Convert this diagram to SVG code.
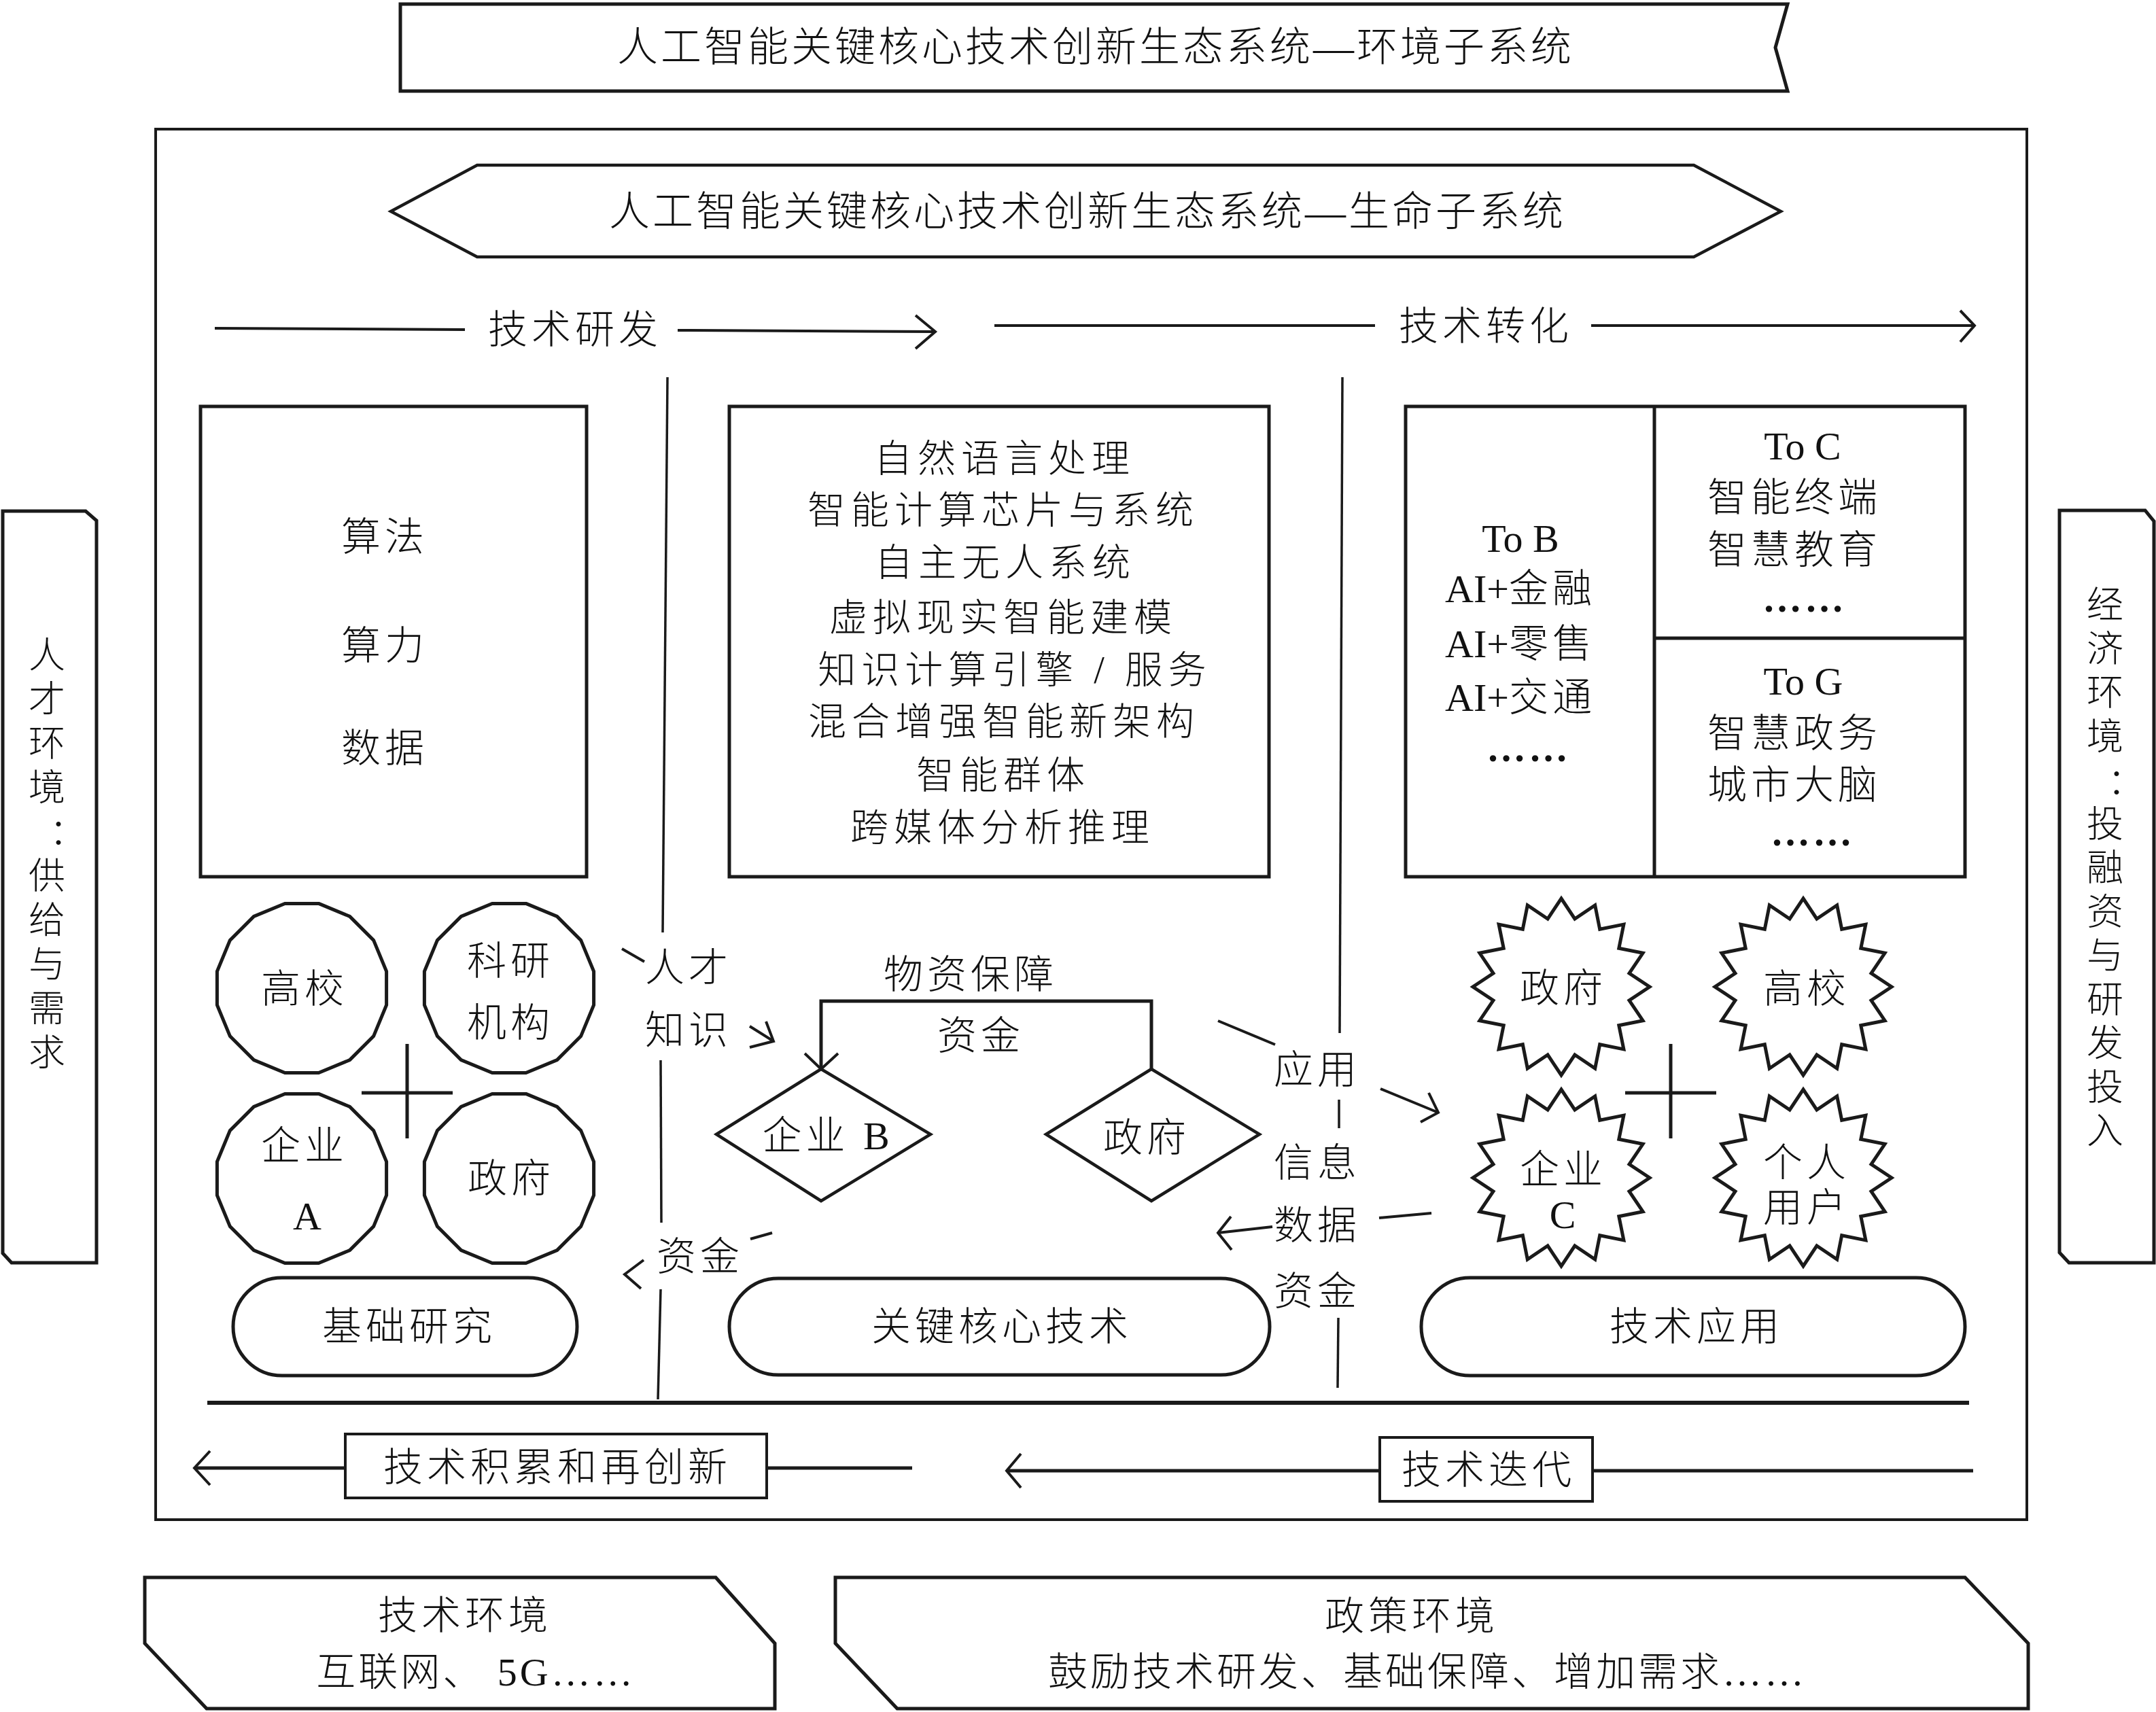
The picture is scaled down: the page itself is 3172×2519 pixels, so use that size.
<svg xmlns="http://www.w3.org/2000/svg" xmlns:xlink="http://www.w3.org/1999/xlink" width="3172" height="2519" viewBox="0 0 3172 2519">
<style>
  .bg { fill:#ffffff; }
  .s { fill:#ffffff; stroke:#1a1a1a; stroke-width:5; stroke-linejoin:miter; }
  .n { fill:none; stroke:#1a1a1a; stroke-width:4; stroke-linecap:butt; stroke-linejoin:miter; }
  .thin { fill:none; stroke:#1a1a1a; stroke-width:3.5; }
  .t { font-family:"Liberation Serif","Noto Sans CJK SC",serif; font-size:58px; fill:#111111; text-anchor:middle; dominant-baseline:central; font-weight:300; letter-spacing:6px; }
  .big { font-size:60px; letter-spacing:4px; }
  .mid { font-size:56px; letter-spacing:8px; }
  .vert { font-size:54px; letter-spacing:0px; }
  .lat { font-size:58px; letter-spacing:0px; font-weight:400; }
  .dots { font-weight:700; letter-spacing:4px; }
  .col { font-family:"Noto Sans CJK TC","Noto Sans CJK SC",sans-serif; }
</style>
<defs>
  <polygon id="c16" points="24.8,-124.6 70.6,-105.6 105.6,-70.6 124.6,-24.8 124.6,24.8 105.6,70.6 70.6,105.6 24.8,124.6 -24.8,124.6 -70.6,105.6 -105.6,70.6 -124.6,24.8 -124.6,-24.8 -105.6,-70.6 -70.6,-105.6 -24.8,-124.6"/>
  <polygon id="star16" points="0,-130 19.9,-100 49.7,-120.1 56.7,-84.8 91.9,-91.9 84.8,-56.7 120.1,-49.7 100,-19.9 130,0 100,19.9 120.1,49.7 84.8,56.7 91.9,91.9 56.7,84.8 49.7,120.1 19.9,100 0,130 -19.9,100 -49.7,120.1 -56.7,84.8 -91.9,91.9 -84.8,56.7 -120.1,49.7 -100,19.9 -130,0 -100,-19.9 -120.1,-49.7 -84.8,-56.7 -91.9,-91.9 -56.7,-84.8 -49.7,-120.1 -19.9,-100"/>
</defs>
<rect class="bg" x="0" y="0" width="3172" height="2519"/>

<g id="env-title">
  <path class="s" d="M589,6 L2630,6 L2612,70 L2630,134 L589,134 Z"/>
  <text class="t big" x="1612" y="70">人工智能关键核心技术创新生态系统—环境子系统</text>
</g>

<g id="main-frame">
  <rect class="n" x="229" y="190" width="2753" height="2046"/>
</g>

<g id="life-title">
  <polygon class="s" style="stroke-width:4.5" points="575,311 702,243 2492,243 2620,311 2492,378 702,378"/>
  <text class="t big" x="1600" y="312">人工智能关键核心技术创新生态系统—生命子系统</text>
</g>

<g id="left-env">
  <path class="s" d="M4,752 L126,752 L142,766 L142,1858 L17,1858 L4,1844 Z"/>
  <text class="t vert">
    <tspan x="69" y="965">人</tspan><tspan x="69" y="1030">才</tspan><tspan x="69" y="1095">环</tspan><tspan x="69" y="1160">境</tspan><tspan class="col" x="86" y="1223">：</tspan><tspan x="69" y="1290">供</tspan><tspan x="69" y="1355">给</tspan><tspan x="69" y="1420">与</tspan><tspan x="69" y="1485">需</tspan><tspan x="69" y="1550">求</tspan>
  </text>
</g>

<g id="right-env">
  <path class="s" d="M3030,751 L3156,751 L3169,767 L3169,1858 L3044,1858 L3030,1843 Z"/>
  <text class="t vert">
    <tspan x="3097" y="891">经</tspan><tspan x="3097" y="956">济</tspan><tspan x="3097" y="1020">环</tspan><tspan x="3097" y="1085">境</tspan><tspan class="col" x="3114" y="1149">：</tspan><tspan x="3097" y="1214">投</tspan><tspan x="3097" y="1278">融</tspan><tspan x="3097" y="1343">资</tspan><tspan x="3097" y="1407">与</tspan><tspan x="3097" y="1472">研</tspan><tspan x="3097" y="1536">发</tspan><tspan x="3097" y="1601">投</tspan><tspan x="3097" y="1665">入</tspan>
  </text>
</g>

<g id="stage-arrows">
  <line class="n" x1="316" y1="483" x2="684" y2="485"/>
  <text class="t" x="846" y="485">技术研发</text>
  <line class="n" x1="997" y1="486" x2="1374" y2="488"/>
  <polyline class="n" points="1347,464 1376,488 1347,513"/>
  <line class="n" x1="1463" y1="479" x2="2023" y2="479"/>
  <text class="t" x="2186" y="480">技术转化</text>
  <line class="n" x1="2341" y1="479" x2="2903" y2="479"/>
  <polyline class="n" points="2884,457 2905,479 2884,503"/>
</g>

<g id="box-basic">
  <rect class="s" x="295" y="598" width="568" height="692"/>
  <text class="t" x="566" y="790">算法</text>
  <text class="t" x="566" y="950">算力</text>
  <text class="t" x="566" y="1101">数据</text>
</g>

<g id="box-core">
  <rect class="s" x="1073" y="598" width="794" height="692"/>
  <text class="t mid" x="1478" y="675">自然语言处理</text>
  <text class="t mid" x="1476" y="751">智能计算芯片与系统</text>
  <text class="t mid" x="1479" y="828">自主无人系统</text>
  <text class="t mid" x="1476" y="909">虚拟现实智能建模</text>
  <text class="t mid" x="1493" y="986">知识计算引擎 / 服务</text>
  <text class="t mid" x="1477" y="1062">混合增强智能新架构</text>
  <text class="t mid" x="1476" y="1141">智能群体</text>
  <text class="t mid" x="1475" y="1218">跨媒体分析推理</text>
</g>

<g id="box-apply">
  <rect class="s" x="2068" y="598" width="823" height="692"/>
  <line class="n" style="stroke-width:5" x1="2434" y1="598" x2="2434" y2="1290"/>
  <line class="n" style="stroke-width:5" x1="2434" y1="939" x2="2891" y2="939"/>
  <text class="t" x="2237" y="792"><tspan class="lat">To B</tspan></text>
  <text class="t" x="2237" y="866"><tspan class="lat">AI+</tspan>金融</text>
  <text class="t" x="2237" y="947"><tspan class="lat">AI+</tspan>零售</text>
  <text class="t" x="2237" y="1026"><tspan class="lat">AI+</tspan>交通</text>
  <text class="t dots" x="2249" y="1100">……</text>
  <text class="t" x="2652" y="656"><tspan class="lat">To C</tspan></text>
  <text class="t" x="2640" y="732">智能终端</text>
  <text class="t" x="2640" y="809">智慧教育</text>
  <text class="t dots" x="2655" y="880">……</text>
  <text class="t" x="2653" y="1002"><tspan class="lat">To G</tspan></text>
  <text class="t" x="2640" y="1079">智慧政务</text>
  <text class="t" x="2640" y="1155">城市大脑</text>
  <text class="t dots" x="2667" y="1224">……</text>
</g>

<g id="dividers">
  <line class="thin" x1="982" y1="555" x2="975" y2="1372"/>
  <line class="thin" x1="972" y1="1560" x2="973" y2="1799"/>
  <line class="thin" x1="972" y1="1897" x2="968" y2="2059"/>
  <line class="thin" x1="1975" y1="555" x2="1971" y2="1520"/>
  <line class="thin" x1="1970" y1="1618" x2="1970" y2="1660"/>
  <line class="thin" x1="1969" y1="1939" x2="1968" y2="2042"/>
</g>

<g id="actor-gaoxiao-left">
  <use href="#c16" class="s" x="444" y="1454"/>
  <text class="t" x="448" y="1455">高校</text>
</g>
<g id="actor-keyan">
  <use href="#c16" class="s" x="749" y="1454"/>
  <text class="t" x="751" y="1414">科研</text>
  <text class="t" x="751" y="1505">机构</text>
</g>
<g id="actor-qiye-a">
  <use href="#c16" class="s" x="444" y="1734"/>
  <text class="t" x="448" y="1686">企业</text>
  <text class="t" style="letter-spacing:0px" x="452" y="1789"><tspan class="lat">A</tspan></text>
</g>
<g id="actor-zhengfu-left">
  <use href="#c16" class="s" x="749" y="1734"/>
  <text class="t" x="752" y="1734">政府</text>
</g>
<g id="plus-left">
  <line class="n" style="stroke-width:5" x1="599" y1="1536" x2="599" y2="1675"/>
  <line class="n" style="stroke-width:5" x1="532" y1="1608" x2="666" y2="1608"/>
</g>

<g id="actor-qiye-b">
  <polygon class="s" style="stroke-width:4.5" points="1054,1669 1208,1573 1369,1669 1208,1767"/>
  <text class="t" x="1215" y="1671">企业 <tspan class="lat">B</tspan></text>
</g>
<g id="actor-zhengfu-mid">
  <polygon class="s" style="stroke-width:4.5" points="1539,1669 1694,1573 1853,1669 1694,1767"/>
  <text class="t" x="1687" y="1674">政府</text>
</g>

<g id="actor-zhengfu-right">
  <use href="#star16" class="s" x="2297" y="1452"/>
  <text class="t" x="2300" y="1454">政府</text>
</g>
<g id="actor-gaoxiao-right">
  <use href="#star16" class="s" x="2653" y="1452"/>
  <text class="t" x="2658" y="1455">高校</text>
</g>
<g id="actor-qiye-c">
  <use href="#star16" class="s" x="2297" y="1733"/>
  <text class="t" x="2300" y="1721">企业</text>
  <text class="t" style="letter-spacing:0px" x="2299" y="1787"><tspan class="lat">C</tspan></text>
</g>
<g id="actor-geren">
  <use href="#star16" class="s" x="2653" y="1733"/>
  <text class="t" x="2658" y="1711">个人</text>
  <text class="t" x="2658" y="1777">用户</text>
</g>
<g id="plus-right">
  <line class="n" style="stroke-width:5" x1="2458" y1="1536" x2="2458" y2="1675"/>
  <line class="n" style="stroke-width:5" x1="2391" y1="1608" x2="2525" y2="1608"/>
</g>

<g id="stage-basic">
  <rect class="s" x="343" y="1880" width="506" height="144" rx="72" ry="72"/>
  <text class="t" x="602" y="1952">基础研究</text>
</g>
<g id="stage-core">
  <rect class="s" x="1073" y="1881" width="795" height="142" rx="72" ry="71"/>
  <text class="t" x="1474" y="1952">关键核心技术</text>
</g>
<g id="stage-apply">
  <rect class="s" x="2091" y="1880" width="800" height="144" rx="72" ry="72"/>
  <text class="t" x="2496" y="1952">技术应用</text>
</g>

<g id="connectors">
  <polyline class="n" style="stroke-width:5" points="1208,1573 1208,1473 1694,1473 1694,1573"/>
  <polyline class="n" points="1184,1550 1208,1573 1233,1550"/>
  <line class="n" x1="915" y1="1396" x2="948" y2="1415"/>
  <line class="n" x1="1103" y1="1510" x2="1138" y2="1532"/>
  <polyline class="n" points="1127,1503 1138,1532 1103,1541"/>
  <line class="n" x1="1104" y1="1823" x2="1136" y2="1814"/>
  <polyline class="n" points="947,1854 919,1875 943,1896"/>
  <line class="n" x1="1792" y1="1502" x2="1876" y2="1537"/>
  <line class="n" x1="2031" y1="1602" x2="2116" y2="1637"/>
  <polyline class="n" points="2102,1608 2116,1637 2090,1651"/>
  <line class="n" x1="2029" y1="1792" x2="2106" y2="1785"/>
  <line class="n" x1="1872" y1="1805" x2="1792" y2="1814"/>
  <polyline class="n" points="1811,1790 1792,1814 1812,1839"/>
  <line class="n" style="stroke-width:6" x1="305" y1="2064" x2="2897" y2="2064"/>
  <line class="n" style="stroke-width:5" x1="287" y1="2160" x2="508" y2="2160"/>
  <line class="n" style="stroke-width:5" x1="1128" y1="2160" x2="1342" y2="2160"/>
  <polyline class="n" points="309,2135 286,2160 309,2185"/>
  <line class="n" style="stroke-width:5" x1="1482" y1="2164" x2="2030" y2="2164"/>
  <line class="n" style="stroke-width:5" x1="2343" y1="2164" x2="2903" y2="2164"/>
  <polyline class="n" points="1502,2139 1481,2164 1502,2189"/>
</g>

<g id="flow-labels">
  <text class="t" x="1013" y="1424">人才</text>
  <text class="t" x="1013" y="1516">知识</text>
  <text class="t" x="1030" y="1849">资金</text>
  <text class="t" x="1428" y="1434">物资保障</text>
  <text class="t" x="1443" y="1524">资金</text>
  <text class="t" x="1938" y="1574">应用</text>
  <text class="t" x="1938" y="1711">信息</text>
  <text class="t" x="1938" y="1803">数据</text>
  <text class="t" x="1938" y="1900">资金</text>
</g>

<g id="stage-accumulate">
  <rect class="n" x="508" y="2110" width="620" height="94"/>
  <text class="t" x="820" y="2159">技术积累和再创新</text>
</g>
<g id="stage-iterate">
  <rect class="n" x="2030" y="2115" width="313" height="94"/>
  <text class="t" x="2190" y="2163">技术迭代</text>
</g>

<g id="tech-env">
  <polygon class="s" points="213,2321 1053,2321 1140,2418 1140,2514 304,2514 213,2418"/>
  <text class="t" x="684" y="2377">技术环境</text>
  <text class="t" style="letter-spacing:4px" x="700" y="2460">互联网、 5G……</text>
</g>
<g id="policy-env">
  <polygon class="s" points="1229,2321 2891,2321 2984,2418 2984,2514 1320,2514 1229,2418"/>
  <text class="t" x="2077" y="2378">政策环境</text>
  <text class="t" style="letter-spacing:4px" x="2100" y="2460">鼓励技术研发、基础保障、增加需求……</text>
</g>
</svg>
